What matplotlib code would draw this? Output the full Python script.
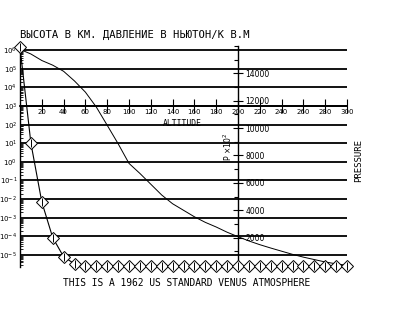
import numpy as np
import matplotlib
matplotlib.use("Agg")
import matplotlib.pyplot as plt
from matplotlib.ticker import FixedLocator, LogLocator, NullFormatter

# altitude in km, every 10 km
altitude = list(range(0, 310, 10))

# smooth curve, read as log10 of value on the left (log) axis
log_curve = [6.05, 5.8, 5.45, 5.2, 4.87, 4.35, 3.75, 2.95, 1.97, 0.98,
             -0.08, -0.62, -1.2, -1.78, -2.25, -2.6, -2.95, -3.25, -3.5, -3.78,
             -4.02, -4.25, -4.45, -4.63, -4.8, -4.97, -5.12, -5.25, -5.38, -5.48,
             -5.56]
curve_vals = [10 ** v for v in log_curve]

# diamond curve, pressure x10^2 on the right (linear) axis
pressure = [15900, 8900, 4600, 2000, 600, 80] + [-100] * 25

x_ticks = list(range(20, 320, 20))
p_major = list(range(2000, 16000, 2000))
p_minor = list(range(1000, 17000, 1000))

title = "ВЫСОТА В КМ. ДАВЛЕНИЕ В НЬЮТОН/К В.М"
caption = "THIS IS A 1962 US STANDARD VENUS ATMOSPHERE"

W, H = 404, 333
fig = plt.figure(figsize=(W / 100, H / 100), dpi=100)
left, right, top, bottom = 20, 347, 46, 267
ax = fig.add_axes([left / W, 1 - bottom / H, (right - left) / W, (bottom - top) / H])
ax.patch.set_visible(False)

# left log axis
ax.set_yscale("log")
ax.set_ylim(10 ** -5.65, 10 ** 6.23)
ax.set_xlim(0, 300)
ax.yaxis.set_major_locator(FixedLocator([10.0 ** k for k in range(-5, 7)]))
ax.yaxis.set_minor_locator(LogLocator(base=10, subs=np.arange(2, 10), numticks=30))
ax.yaxis.set_minor_formatter(NullFormatter())
ax.grid(axis="y", which="major", color="k", lw=1.3)
ax.tick_params(axis="y", which="major", direction="in", length=0, labelsize=5, pad=2)
ax.tick_params(axis="y", which="minor", direction="in", length=2.5, width=0.6)
for s in ["top", "right"]:
    ax.spines[s].set_visible(False)
ax.spines["left"].set_linewidth(1.0)

# x axis drawn through the middle of the plot
ax.spines["bottom"].set_position(("data", 1e3))
ax.spines["bottom"].set_linewidth(1.3)
ax.set_xticks(x_ticks)
ax.set_xticklabels([str(v) for v in x_ticks])
ax.tick_params(axis="x", direction="inout", length=10, width=0.8, labelsize=5, pad=-3)

ax.plot(altitude, curve_vals, color="k", lw=0.7, zorder=3)

# right linear axis at altitude 200
ax2 = ax.twinx()
ax2.set_ylim(-150, 16000)
for s in ["top", "left", "bottom"]:
    ax2.spines[s].set_visible(False)
ax2.spines["right"].set_position(("data", 200))
ax2.spines["right"].set_linewidth(1.0)
ax2.yaxis.set_major_locator(FixedLocator(p_major))
ax2.yaxis.set_minor_locator(FixedLocator(p_minor))
ax2.tick_params(axis="y", which="major", direction="inout", length=7, width=0.8, labelsize=5.5, pad=2)
ax2.tick_params(axis="y", which="minor", direction="in", length=3, width=0.8)
ax2.plot(altitude, pressure, color="k", lw=0.8, marker="D", ms=6.5,
         mfc="white", mec="k", mew=0.7, zorder=4, clip_on=False)
ax2.plot(altitude, pressure, ls="none", marker="|", ms=5.5, mec="k", mew=0.7,
         zorder=5, clip_on=False)

mono = "DejaVu Sans Mono"
fig.text(left / W, 1 - 35 / H, title, family=mono, fontsize=7.6, va="center", ha="left")
fig.text(187 / W, 1 - 283 / H, caption, family=mono, fontsize=6.9, va="center", ha="center")
fig.text(182 / W, 1 - 123 / H, "ALTITUDE", family=mono, fontsize=5.8, va="center", ha="center")
fig.text(228 / W, 1 - 147 / H, r"P $\times10^2$", fontsize=5.5, rotation=90, va="center", ha="center")
fig.text(359 / W, 1 - 160 / H, "PRESSURE", family=mono, fontsize=6.5, rotation=90, va="center", ha="center")

fig.savefig("out.png", dpi=100)
